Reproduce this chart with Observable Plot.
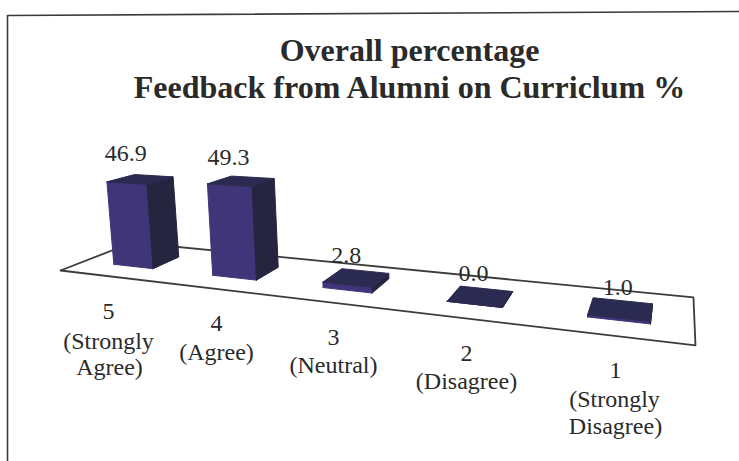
<!DOCTYPE html>
<html>
<head>
<meta charset="utf-8">
<script src="https://cdn.jsdelivr.net/npm/d3@7"></script>
<script src="https://cdn.jsdelivr.net/npm/@observablehq/plot@0.6"></script>
<style>html,body{margin:0;padding:0;background:#fff}svg{display:block}</style>
</head>
<body>
<div id="chart"></div>
<script>
const titleLines = ["Overall percentage", "Feedback from Alumni on Curriclum %"];
const categories = ["5 (Strongly Agree)", "4 (Agree)", "3 (Neutral)", "2 (Disagree)", "1 (Strongly Disagree)"];
const values = [46.9, 49.3, 2.8, 0.0, 1.0];
const valueLabels = ["46.9", "49.3", "2.8", "0.0", "1.0"];
const labelLines = [
  ["5", "(Strongly", "Agree)"],
  ["4", "(Agree)"],
  ["3", "(Neutral)"],
  ["2", "(Disagree)"],
  ["1", "(Strongly", "Disagree)"]
];

// Layout of the perspective stage and the hand-set category label lines
const W = 739, H = 461;
const labelPos = [
  [[108, 311], [108, 341], [109, 367]],
  [[216, 323], [216, 352]],
  [[333, 337], [333, 365]],
  [[466, 353], [466, 381]],
  [[615, 370], [614, 399], [615, 426]]
];
const valueDy = [-22, -20, -16, -15, -13];
const persp = {a: 449.7, b: 89.3, c: 60, d: -17, e: 3.7, f: 270, g: -0.2666, h: 0.131, k: 1.8, lean: 4e-4, vx: 480};
function project(u, w, v) {
  const q = persp.g * u + persp.h * w + 1;
  const x0 = (persp.a * u + persp.b * w + persp.c) / q;
  const y = (persp.d * u + persp.e * w + persp.f - persp.k * v) / q;
  return [x0 + (x0 - persp.vx) * v * persp.lean, y];
}

const band = d3.scaleBand().domain(categories).range([0.004, 1.004]).paddingInner(0.59).paddingOuter(0.295);
const w0 = 0.31, w1 = 0.70;

const faces = [];
categories.forEach((cat, i) => {
  const v = values[i], u0 = band(cat), u1 = u0 + band.bandwidth();
  const face = (name, pts) => pts.forEach(p => {
    const [x, y] = project(...p);
    faces.push({id: cat + name, name, x, y});
  });
  face("front", [[u0, w0, 0], [u1, w0, 0], [u1, w0, v], [u0, w0, v], [u0, w0, 0]]);
  face("side", [[u1, w0, 0], [u1, w1, 0], [u1, w1, v], [u1, w0, v], [u1, w0, 0]]);
  face("top", [[u0, w0, v], [u1, w0, v], [u1, w1, v], [u0, w1, v], [u0, w0, v]]);
});

const floor = [[0, 0], [1, 0], [1, 1], [0, 1], [0, 0]].map(([u, w]) => {
  const [x, y] = project(u, w, 0);
  return {x, y};
});

const valueRows = categories.map((cat, i) => {
  const uc = band(cat) + band.bandwidth() / 2;
  return {
    x: project(uc, w0, values[i])[0] - 1,
    y: project(uc, w1, values[i])[1] + valueDy[i],
    label: valueLabels[i]
  };
});

const catRows = labelLines.flatMap((lines, i) =>
  lines.map((text, j) => ({text, x: labelPos[i][j][0], y: labelPos[i][j][1]})));

const frame = [{x: 7, y: H}, {x: 7, y: 15}, {x: W, y: 11}];
const titleRows = titleLines.map((text, i) => ({text, x: 409, y: 50 + i * 37}));
const fillOf = {front: "#3f3578", side: "#25253f", top: "#2b2a50"};

const plot = Plot.plot({
  width: W, height: H,
  margin: 0,
  x: {domain: [0, W], range: [0, W], axis: null},
  y: {domain: [0, H], range: [0, H], axis: null},
  style: {background: "#fff", fontFamily: "'Liberation Serif', serif"},
  marks: [
    Plot.line(frame, {x: "x", y: "y", stroke: "#3a3a3a", strokeWidth: 1.6}),
    Plot.line(floor, {x: "x", y: "y", stroke: "#3c3c3c", strokeWidth: 1.8}),
    Plot.line(faces, {
      x: "x", y: "y", z: "id",
      fill: d => fillOf[d.name], stroke: d => fillOf[d.name], strokeWidth: 1,
      curve: "linear"
    }),
    Plot.text(valueRows, {x: "x", y: "y", text: "label", fontSize: 24, fill: "#2a2a2a"}),
    Plot.text(catRows, {x: "x", y: "y", text: "text", fontSize: 24, fill: "#2a2a2a"}),
    Plot.text(titleRows, {x: "x", y: "y", text: "text", fontSize: 32, fontWeight: "bold", fill: "#2a2a2a"})
  ]
});
document.getElementById("chart").append(plot);
</script>
</body>
</html>
